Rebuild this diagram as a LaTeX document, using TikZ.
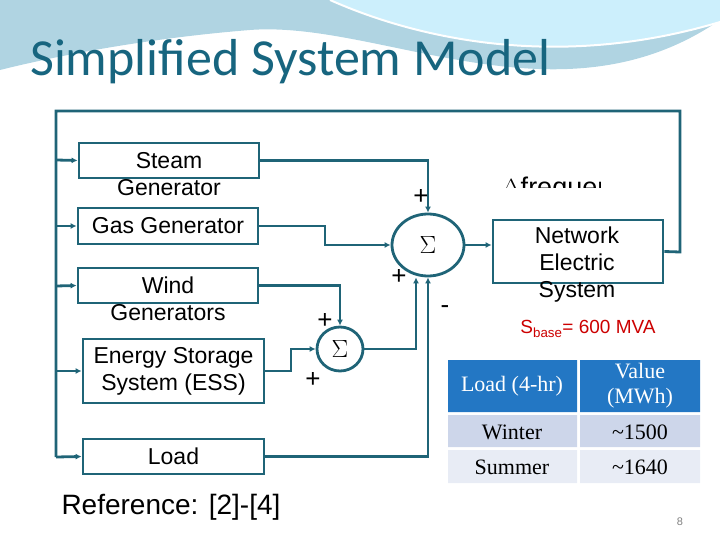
\documentclass[tikz,border=0pt]{standalone}
\usepackage{fontspec}
\setmainfont{Liberation Sans}
\newfontfamily\titlefont{Carlito}
\newfontfamily\tabfont{Liberation Serif}
\usetikzlibrary{arrows.meta,shapes.geometric}
\definecolor{ln}{HTML}{1F6477}
\definecolor{ttl}{HTML}{17657F}
\definecolor{hdr}{HTML}{2377C4}
\definecolor{row1}{HTML}{CDD6EA}
\definecolor{row2}{HTML}{E8ECF5}
\begin{document}
\begin{tikzpicture}[x=1pt,y=-1pt,
  blk/.style={draw=ln,line width=2.8pt,fill=white,inner sep=0},
  sum/.style={draw=ln,line width=2.8pt,ellipse,fill=white,inner sep=0,font=\fontsize{26}{26}\selectfont},
  con/.style={draw=ln,line width=2.8pt,-{Latex[length=6pt,width=6pt]}},
  lab/.style={font=\fontsize{23}{27}\selectfont,align=center},
  pm/.style={font=\fontsize{26}{26}\selectfont},
  cell/.style={minimum width=128pt,inner sep=0,font=\tabfont\fontsize{22}{25}\selectfont,align=center}]
\useasboundingbox (0,0) rectangle (720,540);
% decoration
\fill[cyan!35!teal!35] (0,0) -- (720,0) -- (720,20) .. controls (560,130) and (380,20) .. (250,30) .. controls (150,38) and (60,55) .. (0,70) -- cycle;
\fill[cyan!20] (330,0) .. controls (420,40) and (560,70) .. (720,22) -- (720,0) -- cycle;
\draw[white,line width=2pt] (330,0) .. controls (420,40) and (560,70) .. (720,22);
\node[font=\titlefont\fontsize{52}{56}\selectfont,text=ttl,anchor=west,inner sep=0] (title) at (30,62) {Simplified System Model};
% blocks
\node[blk,minimum width=180pt,minimum height=35pt] (steam) at (169,160.5) {};
\node[lab] (steamt) at (169,174) {Steam\\Generator};
\node[blk,minimum width=180pt,minimum height=36pt,lab] (gas) at (168,226) {Gas Generator};
\node[blk,minimum width=180pt,minimum height=35pt] (wind) at (168,285.5) {};
\node[lab] (windt) at (168,299) {Wind\\Generators};
\node[blk,minimum width=181pt,minimum height=64pt,lab] (ess) at (173.5,371) {Energy Storage\\System (ESS)};
\node[blk,minimum width=181pt,minimum height=35pt,lab] (load) at (173.5,456.5) {Load};
\node[blk,minimum width=170pt,minimum height=63pt] (net) at (578,251.5) {};
\node[lab] (nett) at (577,265) {Network\\Electric\\System};
\node[sum,minimum width=72pt,minimum height=62pt] (s1) at (428,245) {$\Sigma$};
\node[sum,minimum width=46pt,minimum height=44pt] (s2) at (340,349) {$\Sigma$};
% connectors
\draw[con] (steam.east) -| (s1.north);
\draw[con] (gas.east) -- (325,226) |- (s1.west);
\draw[con] (wind.east) -| (s2.north);
\draw[con] (ess.east) -- (291,371) |- (s2.west);
\coordinate (b1) at (416,0);
\draw[con] (s2.east) -| (s1.south -| b1);
\draw[con] (load.east) -| (s1.south);
\draw[con] (s1.east) -- (s1.east -| net.west);
% feedback
\coordinate (fr) at (680,252);
\coordinate (ftr) at (680,111);
\coordinate (ftl) at (56,111);
\coordinate (fbl) at (56,457);
\draw[ln,line width=2.8pt] (net.east) -- (fr) -- (ftr) -- (ftl) -- (fbl);
\draw[con] (56,160) -- (steam.west);
\draw[con] (56,226) -- (gas.west);
\draw[con] (56,286) -- (wind.west);
\draw[con] (56,371) -- (ess.west);
\draw[con] (fbl) -- (load.west);
% signs
\node[pm] (p1) at (421,197) {+};
\node[pm] (p2) at (399,277) {+};
\node[pm] (p3) at (325,321) {+};
\node[pm] (p4) at (313,380) {+};
\node[pm] (m1) at (445,310) {-};
\begin{scope}
\clip (490,160) rectangle (600,188);
\node[font=\fontsize{27}{27}\selectfont,anchor=west] (df) at (498,190) {$\Delta$frequency};
\end{scope}
\node[font=\fontsize{19}{21}\selectfont,text=red!80!black] (sb) at (588,329) {S\textsubscript{base}= 600 MVA};
% table
\fill[hdr] (448,360) rectangle (577,412) (580,360) rectangle (700,412);
\fill[row1] (448,415) rectangle (577,447) (580,415) rectangle (700,447);
\fill[row2] (448,450) rectangle (577,483) (580,450) rectangle (700,483);
\node[cell,text=white] (h1) at (512,386) {Load (4-hr)};
\node[cell,text=white] (h2) at (640,386) {Value\\(MWh)};
\node[cell] (c1) at (512,432) {Winter};
\node[cell] (c2) at (640,432) {\char"7E 1500};
\node[cell] (c3) at (512,467) {Summer};
\node[cell] (c4) at (640,467) {\char"7E 1640};
\node[font=\fontsize{28}{30}\selectfont,anchor=west] (ref) at (58,507) {Reference: [2]-[4]};
\node[font=\fontsize{11}{11}\selectfont,text=gray] (pg) at (680,522) {8};
\end{tikzpicture}
\end{document}
